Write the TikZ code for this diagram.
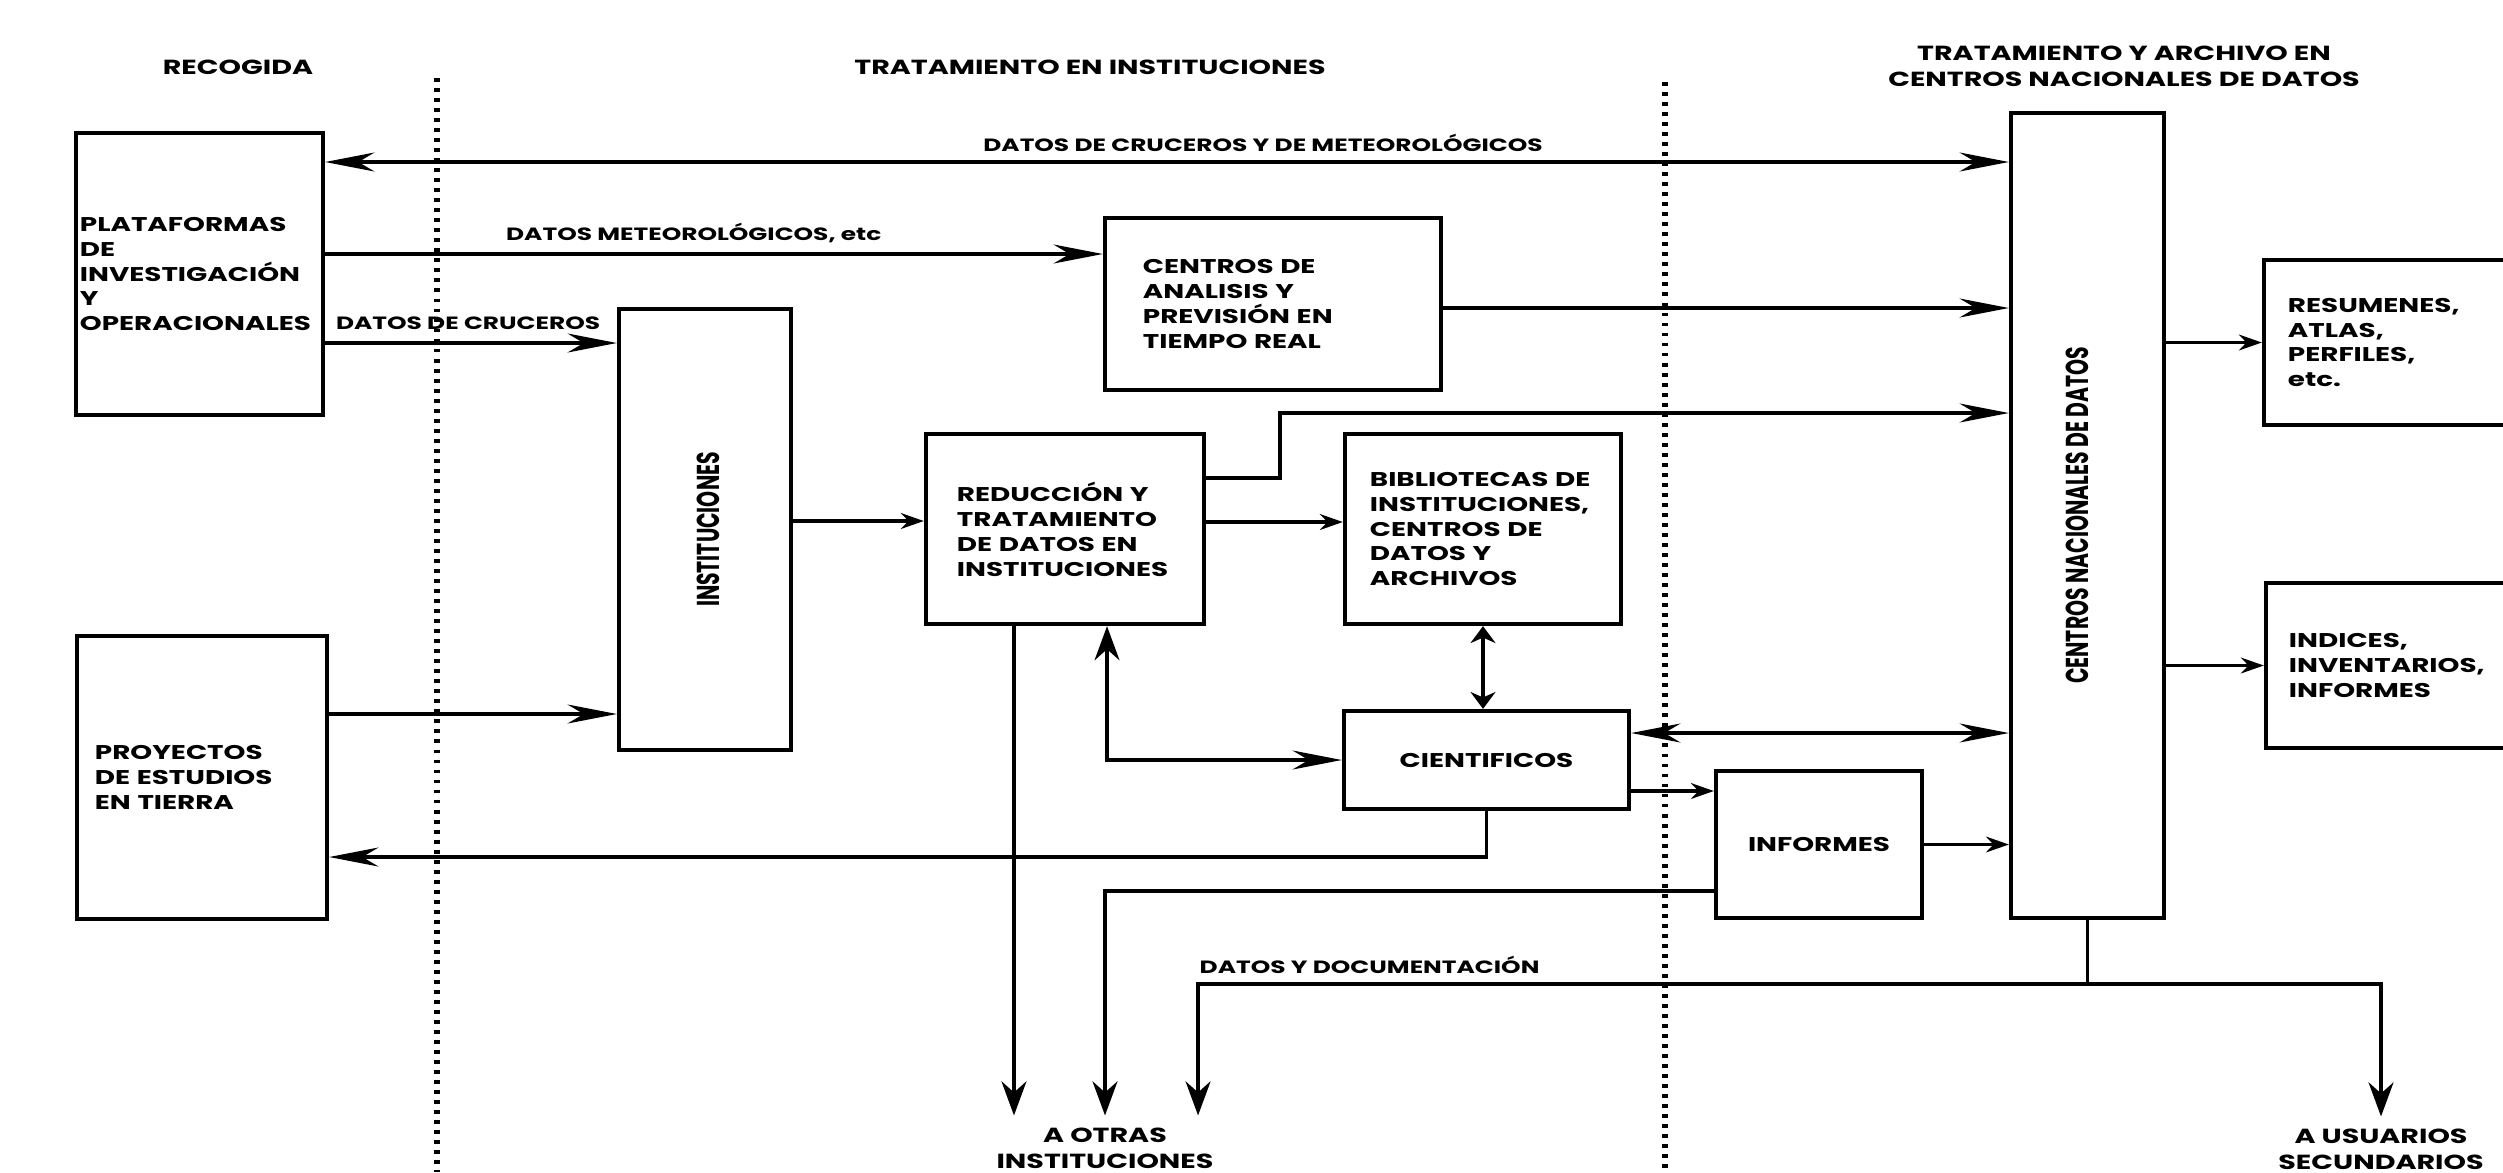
\documentclass[tikz,border=0pt]{standalone}
\usepackage{fontspec}
\usepackage{tikz}
\usetikzlibrary{arrows.meta, positioning, calc}

\newfontfamily\gfont{Poppins}[FakeStretch=1.4]
\newfontfamily\rfont{Poppins}
\newcommand{\boxfont}{\gfont\bfseries\fontsize{5.65}{7.1}\selectfont}
\newcommand{\lblfont}{\gfont\bfseries\fontsize{5.05}{6}\selectfont}
\newcommand{\ttlfont}{\gfont\bfseries\fontsize{5.8}{7.4}\selectfont}
\newcommand{\rotfont}{\rfont\bfseries\fontsize{5.8}{7}\selectfont}
\newcommand{\rtext}[1]{\scalebox{1}[1.55]{#1}}

\tikzset{
  box/.style={draw, line width=1.2pt, inner sep=0pt, align=left, font=\boxfont},
  lbl/.style={font=\lblfont, inner sep=0pt},
  ttl/.style={font=\ttlfont, align=center, inner xsep=0pt, inner ysep=1.2mm},
  rot/.style={rotate=90, font=\rotfont, inner sep=0pt},
  conn/.style={line width=0.9pt},
  sep/.style={line width=1.5pt, dash pattern=on 1.1pt off 1.75pt},
  HB/.tip={Stealth[length=14pt,width=5.4pt]},
  HS/.tip={Stealth[length=6.5pt,width=4.5pt]},
  VB/.tip={Stealth[length=9.7pt,width=7.1pt]},
  VS/.tip={Stealth[length=4.8pt,width=7.1pt]}
}

\begin{document}
\begin{tikzpicture}[x=0.01cm, y=-0.01cm]
\useasboundingbox (0,0) rectangle (2503,1172);

% column titles
\node[ttl] (trec) at (238,67) {RECOGIDA};
\node[ttl] (tinst) at (1090,67) {TRATAMIENTO EN INSTITUCIONES};
\node[ttl] (tcn) at (2124,66) {TRATAMIENTO Y ARCHIVO EN\\CENTROS NACIONALES DE DATOS};

% separators
\draw[sep] (437,78) -- (437,1172);
\draw[sep] (1665,82) -- (1665,1172);

% boxes
\node[box, minimum width=24.7mm, minimum height=28.2mm, text width=23.9mm, inner xsep=0.4mm] (plat) at (199.5,274)
  {PLATAFORMAS\\DE\\INVESTIGACIÓN\\Y\\OPERACIONALES};
\node[box, minimum width=25mm, minimum height=28.3mm, text width=21.4mm, inner xsep=1.8mm] (proy) at (202,777.5)
  {PROYECTOS\\DE ESTUDIOS\\EN TIERRA};
\node[box, minimum width=17.2mm, minimum height=44.1mm,
  label={[rot, yshift=-0.35mm]center:\rtext{INSTITUCIONES}}] (inst) at (705,529.5) {};
\node[box, minimum width=33.6mm, minimum height=17.2mm, text width=26mm, inner xsep=3.8mm] (anal) at (1273,304)
  {CENTROS DE\\ANALISIS Y\\PREVISIÓN EN\\TIEMPO REAL};
\node[box, minimum width=27.8mm, minimum height=19mm, text width=21.6mm, inner xsep=3.1mm] (red) at (1065,529)
  {REDUCCIÓN Y\\TRATAMIENTO\\DE DATOS EN\\INSTITUCIONES};
\node[box, minimum width=27.6mm, minimum height=19mm, text width=22.6mm, inner xsep=2.5mm] (bib) at (1483,529)
  {BIBLIOTECAS DE\\INSTITUCIONES,\\CENTROS DE\\DATOS Y\\ARCHIVOS};
\node[box, minimum width=28.5mm, minimum height=9.8mm] (cient) at (1486.5,760) {CIENTIFICOS};
\node[box, minimum width=20.6mm, minimum height=14.7mm] (inf) at (1819,844.5) {INFORMES};
\node[box, minimum width=15.3mm, minimum height=80.5mm,
  label={[rot, yshift=1mm]center:\rtext{CENTROS NACIONALES DE DATOS}}] (cn) at (2087.5,515.5) {};
\node[box, minimum width=29.6mm, minimum height=16.5mm, text width=24.8mm, inner xsep=2.4mm] (res) at (2412,342.5)
  {RESUMENES,\\ATLAS,\\PERFILES,\\etc.};
\node[box, minimum width=29.4mm, minimum height=16.5mm, text width=24.8mm, inner xsep=2.3mm] (ind) at (2413,665.5)
  {INDICES,\\INVENTARIOS,\\INFORMES};

% destinations
\node[ttl] (otras) at (1105,1148.5) {A OTRAS\\INSTITUCIONES};
\node[ttl] (usu) at (2381,1149.5) {A USUARIOS\\SECUNDARIOS};

% flows
\draw[conn, HB-HB] (plat.east |- 0,162) -- node[lbl, pos=0.557, anchor=base, yshift=1.1mm] (l1)
  {DATOS DE CRUCEROS Y DE METEOROLÓGICOS} (cn.west |- 0,162);
\draw[conn, -HB] (plat.east |- 0,254) -- node[lbl, pos=0.474, anchor=base, yshift=1.4mm] (l2)
  {DATOS METEOROLÓGICOS, etc} (anal.west |- 0,254);
\draw[conn, -HB] (plat.east |- 0,343) -- node[lbl, pos=0.49, anchor=base, yshift=1.4mm] (l3)
  {DATOS DE CRUCEROS} (inst.west |- 0,343);
\draw[conn, -HB] (proy.east |- 0,714) -- (inst.west |- 0,714);
\draw[conn, -HS] (inst.east |- 0,521) -- (red.west |- 0,521);
\draw[conn, -HS] (red.east |- 0,522) -- (bib.west |- 0,522);
\draw[conn, -HB] (anal.east |- 0,308) -- (cn.west |- 0,308);
\draw[conn, -HB] (red.east |- 0,478) -| (1280,413) -- (cn.west |- 0,413);
\draw[conn, VS-VS] (bib.south) -- (bib.south |- cient.north);
\draw[conn, VB-HB] ([xshift=4.2mm]red.south) |- (cient.west);
\draw[conn, HB-HB] (cient.east |- 0,733) -- (cn.west |- 0,733);
\draw[conn, -HS] (cient.east |- 0,791) -- (inf.west |- 0,791);
\draw[conn, -HS] (inf.east) -- (cn.west |- inf.east);
\draw[conn, -HB] (cient.south) |- (proy.east |- 0,857);
\coordinate (rdown) at ([xshift=-5.1mm]red.south);
\draw[conn, -VB] (rdown) -- (rdown |- otras.north);
\draw[conn, -VB] (inf.west |- 0,891) -| (otras.north);

% distribution from the national centres
\coordinate (bus) at (cn.south |- 0,984);
\draw[conn] (cn.south) -- (bus);
\draw[conn, -VB] (bus) -| (usu.north);
\draw[conn, -VB] (bus) -| ([xshift=9.3mm]otras.north);
\node[lbl, anchor=base west] (ldoc) at (1199,973) {DATOS Y DOCUMENTACIÓN};
\draw[conn, -HS] (cn.east |- res.west) -- (res.west);
\draw[conn, -HS] (cn.east |- ind.west) -- (ind.west);
\end{tikzpicture}
\end{document}
